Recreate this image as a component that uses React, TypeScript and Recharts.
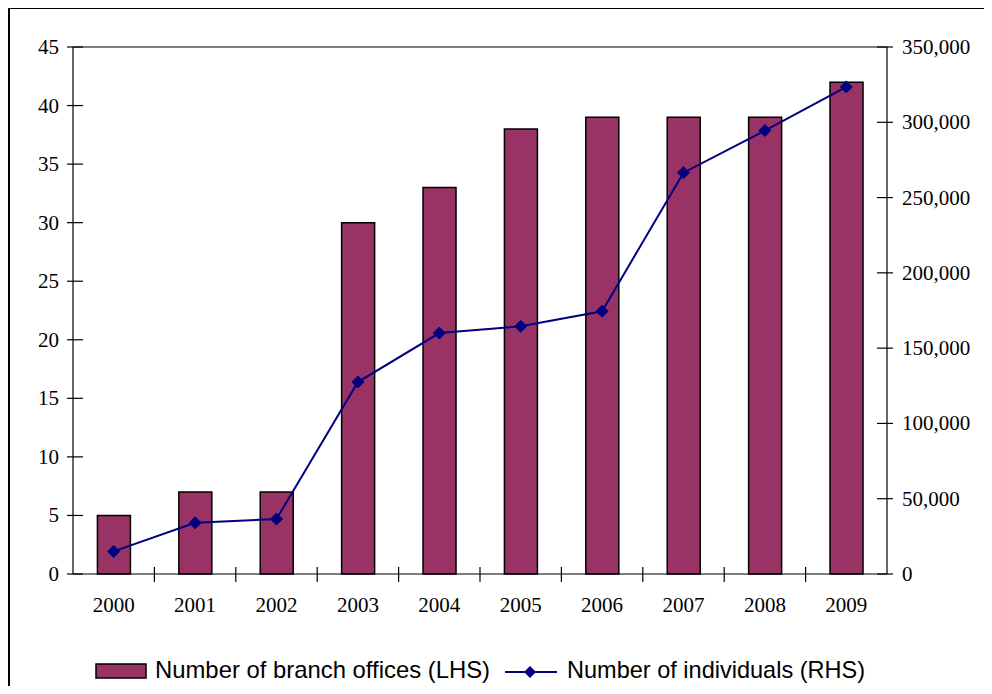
import React from "react";
import { ComposedChart, Bar, Line, XAxis, YAxis, Legend, ReferenceLine } from "recharts";

const years = ["2000", "2001", "2002", "2003", "2004", "2005", "2006", "2007", "2008", "2009"];
const branchOffices = [5, 7, 7, 30, 33, 38, 39, 39, 39, 42];
const individuals = [15000, 34000, 36500, 127500, 160000, 164500, 174500, 266500, 294500, 323500];
const leftTicks = [0, 5, 10, 15, 20, 25, 30, 35, 40, 45];
const rightTicks = [0, 50000, 100000, 150000, 200000, 250000, 300000, 350000];
const legendLabels = ["Number of branch offices (LHS)", "Number of individuals (RHS)"];

const data = years.map((y, i) => ({ year: y, branches: branchOffices[i], individuals: individuals[i] }));

const BAR_COLOR = "#993366";
const LINE_COLOR = "#000080";
const SERIF = "'Liberation Serif', 'Times New Roman', serif";
const SANS = "'Liberation Sans', Arial, sans-serif";

const fmt = (v: number) => v.toLocaleString("en-US");

const LeftTick = (props: any) => {
  const { x, y, payload } = props;
  return (
    <g>
      <line x1={x + 10 - 8} x2={x + 10 + 8} y1={y} y2={y} stroke="#000" strokeWidth={1.2} />
      <text x={x - 6} y={y} dy={7} textAnchor="end" fontFamily={SERIF} fontSize={21} fill="#000">
        {payload.value}
      </text>
    </g>
  );
};

const RightTick = (props: any) => {
  const { x, y, payload } = props;
  return (
    <g>
      <line x1={x - 10 - 8} x2={x - 10 + 8} y1={y} y2={y} stroke="#000" strokeWidth={1.2} />
      <text x={x + 7} y={y} dy={7} textAnchor="start" fontFamily={SERIF} fontSize={21} fill="#000">
        {fmt(payload.value)}
      </text>
    </g>
  );
};

const XTick = (props: any) => {
  const { x, y, payload, index } = props;
  const bw = 81.4;
  return (
    <g>
      {index > 0 && (
        <line x1={x - bw / 2} x2={x - bw / 2} y1={y - 8 - 7} y2={y - 8 + 8} stroke="#000" strokeWidth={1.2} />
      )}
      <text x={x} y={y + 30} textAnchor="middle" fontFamily={SERIF} fontSize={21} fill="#000">
        {payload.value}
      </text>
    </g>
  );
};

const Diamond = (props: any) => {
  const { cx, cy } = props;
  if (cx == null || cy == null) return null;
  const s = 6;
  return (
    <polygon
      points={`${cx},${cy - s} ${cx + s},${cy} ${cx},${cy + s} ${cx - s},${cy}`}
      fill={LINE_COLOR}
      stroke={LINE_COLOR}
    />
  );
};

const LegendContent = () => (
  <svg width={984} height={36} style={{ overflow: "visible", display: "block" }}>
    <rect x={88} y={9} width={50} height={14} fill={BAR_COLOR} stroke="#000" strokeWidth={1.5} />
    <text
      x={147}
      y={23}
      fontFamily={SANS}
      fontSize={24}
      fill="#000"
      textLength={335}
      lengthAdjust="spacingAndGlyphs"
    >
      {legendLabels[0]}
    </text>
    <line x1={497} x2={549} y1={17} y2={17} stroke={LINE_COLOR} strokeWidth={2} />
    <polygon points="522,11 528,17 522,23 516,17" fill={LINE_COLOR} />
    <text
      x={559}
      y={23}
      fontFamily={SANS}
      fontSize={24}
      fill="#000"
      textLength={298}
      lengthAdjust="spacingAndGlyphs"
    >
      {legendLabels[1]}
    </text>
  </svg>
);

export default function App() {
  return (
    <div style={{ position: "relative", width: 984, height: 678 }}>
      <div
        style={{
          position: "absolute",
          left: 0,
          top: -1,
          width: 984,
          height: 679,
          borderTop: "2px solid #000",
          borderLeft: "2px solid #000",
          boxSizing: "border-box",
          pointerEvents: "none",
        }}
      />
      <ComposedChart
        width={984}
        height={678}
        data={data}
        margin={{ top: 39, right: 0, bottom: 0, left: 0 }}
        barCategoryGap="30%"
      >
        <XAxis
          dataKey="year"
          height={82}
          tickLine={false}
          axisLine={{ stroke: "#000", strokeWidth: 1.2 }}
          tick={<XTick />}
          interval={0}
        />
        <YAxis
          yAxisId="left"
          orientation="left"
          width={65}
          domain={[0, 45]}
          ticks={leftTicks}
          tickLine={false}
          axisLine={{ stroke: "#000", strokeWidth: 1.2 }}
          tick={<LeftTick />}
          interval={0}
        />
        <YAxis
          yAxisId="right"
          orientation="right"
          width={105}
          domain={[0, 350000]}
          ticks={rightTicks}
          tickLine={false}
          axisLine={{ stroke: "#000", strokeWidth: 1.2 }}
          tick={<RightTick />}
          interval={0}
        />
        <ReferenceLine yAxisId="left" y={45} stroke="#808080" strokeWidth={2} />
        <Bar
          yAxisId="left"
          dataKey="branches"
          name={legendLabels[0]}
          fill={BAR_COLOR}
          stroke="#000"
          strokeWidth={1.5}
          isAnimationActive={false}
        />
        <Line
          yAxisId="right"
          dataKey="individuals"
          name={legendLabels[1]}
          type="linear"
          stroke={LINE_COLOR}
          strokeWidth={2}
          dot={<Diamond />}
          activeDot={false}
          isAnimationActive={false}
        />
        <Legend
          verticalAlign="bottom"
          content={<LegendContent />}
          wrapperStyle={{ height: 30, bottom: 1, left: 0, width: 984 }}
        />
      </ComposedChart>
    </div>
  );
}
